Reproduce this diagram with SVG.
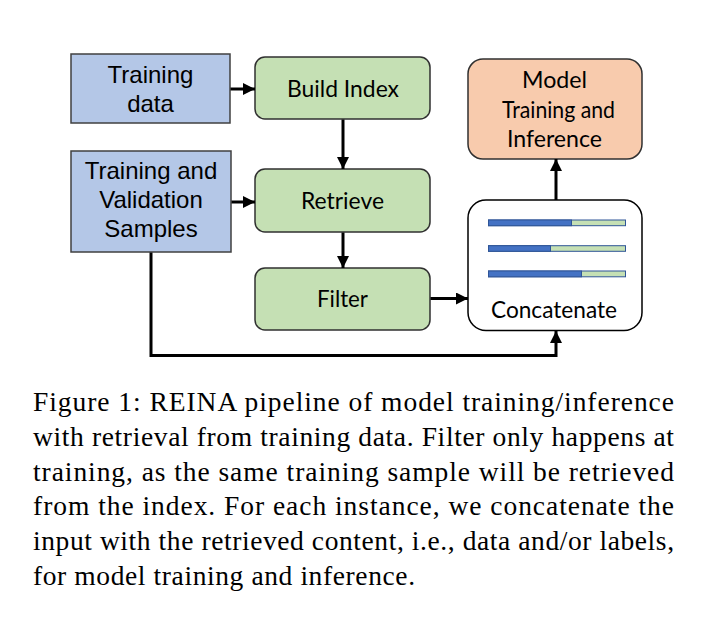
<svg xmlns="http://www.w3.org/2000/svg" width="714" height="618" viewBox="0 0 714 618">
<defs>
<style>
.blue{fill:#b4c7e7;stroke:#404040;stroke-width:1.5}
.green{fill:#c5e0b4;stroke:#303030;stroke-width:1.5}
.orange{fill:#f8cbad;stroke:#303030;stroke-width:1.5}
.white{fill:#ffffff;stroke:#000000;stroke-width:1.5}
.ar{font-family:"Liberation Sans",Arial,sans-serif;font-size:24px;fill:#000;text-anchor:middle}
.ca{font-family:Lato,"Open Sans",sans-serif;font-size:22.5px;fill:#000;text-anchor:middle}
.cap{font-family:"Liberation Serif","Times New Roman",serif;font-size:27.5px;fill:#000}
.conn{fill:none;stroke:#000;stroke-width:3}
.barB{fill:#4472c4;stroke:#2f5597;stroke-width:1}
.barG{fill:#c5e0b4;stroke:#2f5597;stroke-width:1}
</style>
<marker id="ah" markerUnits="userSpaceOnUse" markerWidth="12" markerHeight="12" viewBox="0 0 10 10" refX="10" refY="5" orient="auto">
<path d="M0,0 L10,5 L0,10 Z" fill="#000"/>
</marker>
</defs>
<rect width="714" height="618" fill="#ffffff"/>

<g id="training-data">
<rect class="blue" x="71" y="54" width="159" height="69"/>
<text class="ar" x="150.5" y="82.5">Training</text>
<text class="ar" x="150.5" y="111.5">data</text>
</g>

<g id="training-validation-samples">
<rect class="blue" x="71" y="151" width="160" height="101"/>
<text class="ar" x="151" y="179">Training and</text>
<text class="ar" x="151" y="208">Validation</text>
<text class="ar" x="151" y="237">Samples</text>
</g>

<g id="build-index">
<rect class="green" x="255" y="57" width="175" height="62" rx="10"/>
<text class="ca" x="343" y="97" textLength="112" lengthAdjust="spacingAndGlyphs">Build Index</text>
</g>

<g id="retrieve">
<rect class="green" x="255" y="169" width="175" height="63" rx="10"/>
<text class="ca" x="342.5" y="209" textLength="83" lengthAdjust="spacingAndGlyphs">Retrieve</text>
</g>

<g id="filter">
<rect class="green" x="255" y="268" width="175" height="62" rx="10"/>
<text class="ca" x="342.5" y="307" textLength="51" lengthAdjust="spacingAndGlyphs">Filter</text>
</g>

<g id="model-training-inference">
<rect class="orange" x="468" y="59" width="174" height="100" rx="15"/>
<text class="ca" x="554.5" y="88" textLength="65" lengthAdjust="spacingAndGlyphs">Model</text>
<text class="ca" x="558.5" y="118" textLength="113" lengthAdjust="spacingAndGlyphs">Training and</text>
<text class="ca" x="554.5" y="147" textLength="95" lengthAdjust="spacingAndGlyphs">Inference</text>
</g>

<g id="concatenate">
<rect class="white" x="468" y="200" width="174" height="130.5" rx="18"/>
<rect class="barG" x="488.5" y="220" width="137" height="5.7"/>
<rect class="barB" x="488.5" y="220" width="83" height="5.7"/>
<rect class="barG" x="488.5" y="245.7" width="137" height="5.6"/>
<rect class="barB" x="488.5" y="245.7" width="62" height="5.6"/>
<rect class="barG" x="488.5" y="271" width="137" height="5.8"/>
<rect class="barB" x="488.5" y="271" width="93" height="5.8"/>
<text class="ca" x="554" y="318" textLength="126" lengthAdjust="spacingAndGlyphs">Concatenate</text>
</g>

<g id="connectors">
<line class="conn" x1="230.5" y1="89" x2="255" y2="89" marker-end="url(#ah)"/>
<line class="conn" x1="231.5" y1="202" x2="255" y2="202" marker-end="url(#ah)"/>
<line class="conn" x1="343" y1="119.5" x2="343" y2="169" marker-end="url(#ah)"/>
<line class="conn" x1="343" y1="232.5" x2="343" y2="268" marker-end="url(#ah)"/>
<line class="conn" x1="430.5" y1="298.5" x2="468" y2="298.5" marker-end="url(#ah)"/>
<line class="conn" x1="556" y1="200" x2="556" y2="159" marker-end="url(#ah)"/>
<polyline class="conn" points="151,252.5 151,355.5 556,355.5 556,331" marker-end="url(#ah)"/>
</g>

<g id="caption">
<text class="cap" x="33" y="411" textLength="641" lengthAdjust="spacing">Figure 1: REINA pipeline of model training/inference</text>
<text class="cap" x="33" y="445.8" textLength="641" lengthAdjust="spacing">with retrieval from training data. Filter only happens at</text>
<text class="cap" x="33" y="480.6" textLength="641" lengthAdjust="spacing">training, as the same training sample will be retrieved</text>
<text class="cap" x="33" y="515.4" textLength="641" lengthAdjust="spacing">from the index. For each instance, we concatenate the</text>
<text class="cap" x="33" y="550.2" textLength="641" lengthAdjust="spacing">input with the retrieved content, i.e., data and/or labels,</text>
<text class="cap" x="33" y="585" textLength="382" lengthAdjust="spacing">for model training and inference.</text>
</g>
</svg>
